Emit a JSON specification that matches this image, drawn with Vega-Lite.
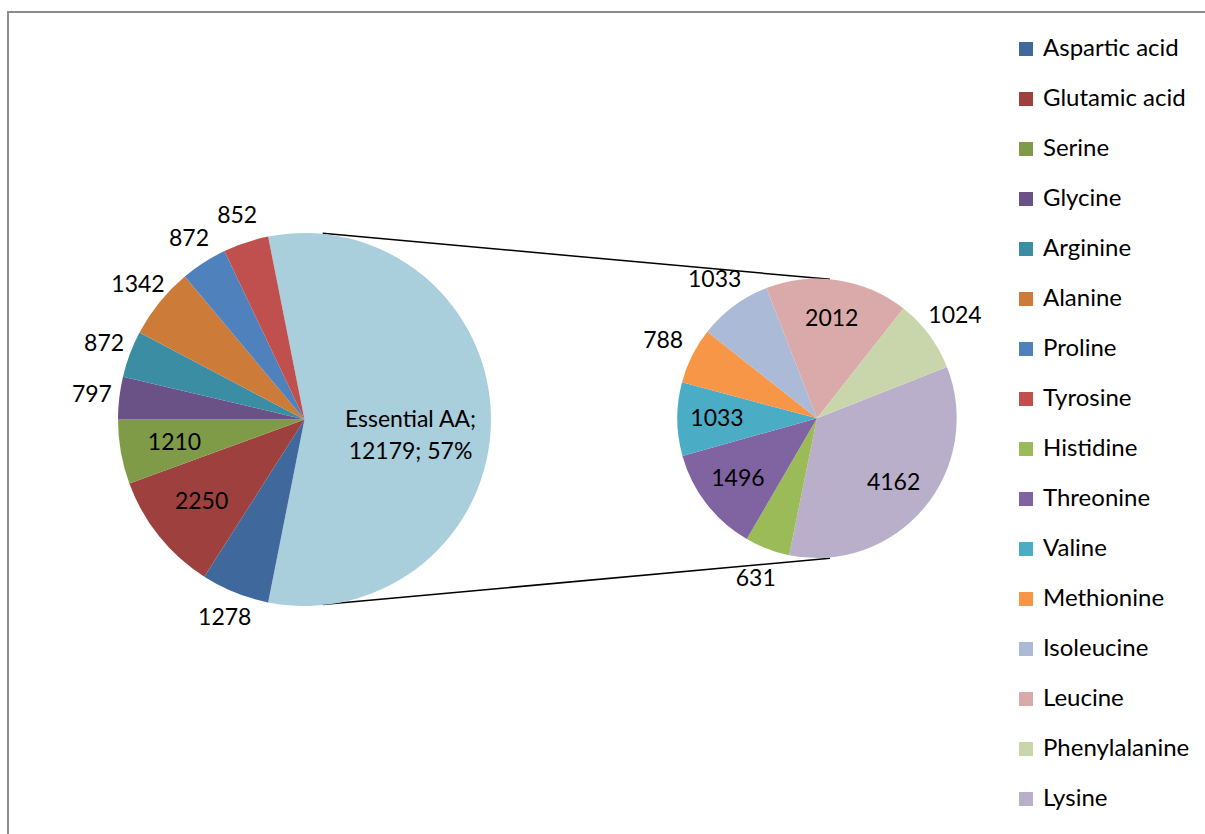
{
  "$schema": "https://vega.github.io/schema/vega-lite/v6.json",
  "width": 1205,
  "height": 834,
  "autosize": "none",
  "padding": {"left": 8, "top": 12, "right": 0, "bottom": 0},
  "background": "white",
  "config": {
    "view": {"stroke": "#8c8c8c", "strokeWidth": 2},
    "font": "Lato",
    "text": {"font": "Lato", "fontSize": 23, "color": "black"}
  },
  "datasets": {
    "other": [
      {"name": "Essential AA", "value": 12179, "ord": 0, "label": "Essential AA;\n12179; 57%"},
      {"name": "Aspartic acid", "value": 1278, "ord": 1},
      {"name": "Glutamic acid", "value": 2250, "ord": 2},
      {"name": "Serine", "value": 1210, "ord": 3},
      {"name": "Glycine", "value": 797, "ord": 4},
      {"name": "Arginine", "value": 872, "ord": 5},
      {"name": "Alanine", "value": 1342, "ord": 6},
      {"name": "Proline", "value": 872, "ord": 7},
      {"name": "Tyrosine", "value": 852, "ord": 8}
    ],
    "essential": [
      {"name": "Lysine", "value": 4162, "ord": 0},
      {"name": "Histidine", "value": 631, "ord": 1},
      {"name": "Threonine", "value": 1496, "ord": 2},
      {"name": "Valine", "value": 1033, "ord": 3},
      {"name": "Methionine", "value": 788, "ord": 4},
      {"name": "Isoleucine", "value": 1033, "ord": 5},
      {"name": "Leucine", "value": 2012, "ord": 6},
      {"name": "Phenylalanine", "value": 1024, "ord": 7}
    ],
    "connectors": [
      {"x": 322.7, "y": 233.3, "x2": 830, "y2": 279.3},
      {"x": 322.7, "y": 604.5, "x2": 830, "y2": 558.3}
    ]
  },
  "encoding": {
    "x": {"type": "quantitative", "scale": {"domain": [8, 1213], "nice": false, "zero": false}, "axis": null},
    "y": {"type": "quantitative", "scale": {"domain": [12, 846], "nice": false, "zero": false, "reverse": true}, "axis": null}
  },
  "layer": [
    {
      "data": {"name": "connectors"},
      "mark": {"type": "rule", "color": "black", "strokeWidth": 1.5},
      "encoding": {
        "x": {"field": "x", "type": "quantitative"},
        "y": {"field": "y", "type": "quantitative"},
        "x2": {"field": "x2"},
        "y2": {"field": "y2"}
      }
    },
    {
      "data": {"name": "other"},
      "encoding": {
        "theta": {"field": "value", "type": "quantitative", "stack": true, "scale": {"range": [-0.19633, 6.08686]}},
        "order": {"field": "ord", "type": "quantitative"},
        "x": {"datum": 304.5, "type": "quantitative"},
        "y": {"datum": 419.5, "type": "quantitative"}
      },
      "layer": [
        {
          "mark": {"type": "arc", "outerRadius": 186.5},
          "encoding": {
            "color": {
              "field": "name",
              "type": "nominal",
              "scale": {
                "domain": ["Aspartic acid", "Glutamic acid", "Serine", "Glycine", "Arginine", "Alanine", "Proline", "Tyrosine", "Histidine", "Threonine", "Valine", "Methionine", "Isoleucine", "Leucine", "Phenylalanine", "Lysine", "Essential AA"],
                "range": ["#3F699D", "#9E413E", "#7F9B48", "#6A5287", "#3A8DA3", "#CC7B38", "#4F81BD", "#C0504D", "#9BBB59", "#8064A2", "#4BACC6", "#F79646", "#AABAD7", "#D9AAA9", "#C9D6AC", "#BAAFCB", "#A9CEDC"]
              },
              "legend": {
                "orient": "none",
                "legendX": 1006,
                "legendY": 25,
                "title": null,
                "values": ["Aspartic acid", "Glutamic acid", "Serine", "Glycine", "Arginine", "Alanine", "Proline", "Tyrosine", "Histidine", "Threonine", "Valine", "Methionine", "Isoleucine", "Leucine", "Phenylalanine", "Lysine"],
                "symbolType": "square",
                "symbolSize": 196,
                "symbolStrokeWidth": 0,
                "symbolOpacity": 1,
                "labelFont": "Lato",
                "labelFontSize": 24,
                "labelColor": "black",
                "labelOffset": 5,
                "rowPadding": 26,
                "padding": 0,
                "labelLimit": 400
              }
            }
          }
        },
        {
          "mark": {"type": "text", "radius": 214, "align": "center", "baseline": "middle"},
          "encoding": {
            "text": {"condition": {"test": "indexof(['Aspartic acid','Glycine','Arginine','Alanine','Proline','Tyrosine'], datum.name) >= 0", "field": "value", "type": "quantitative", "format": "d"}, "value": ""}
          }
        },
        {
          "mark": {"type": "text", "radius": 132, "align": "center", "baseline": "middle"},
          "encoding": {
            "text": {"condition": {"test": "indexof(['Glutamic acid','Serine'], datum.name) >= 0", "field": "value", "type": "quantitative", "format": "d"}, "value": ""}
          }
        },
        {
          "mark": {"type": "text", "radius": 106, "align": "center", "baseline": "middle", "lineBreak": "\n", "lineHeight": 32, "dy": 1},
          "encoding": {
            "text": {"condition": {"test": "datum.name === 'Essential AA'", "field": "label", "type": "nominal"}, "value": ""}
          }
        }
      ]
    },
    {
      "data": {"name": "essential"},
      "encoding": {
        "theta": {"field": "value", "type": "quantitative", "stack": true, "scale": {"range": [1.19555, 7.47873]}},
        "order": {"field": "ord", "type": "quantitative"},
        "x": {"datum": 817, "type": "quantitative"},
        "y": {"datum": 418.3, "type": "quantitative"}
      },
      "layer": [
        {
          "mark": {"type": "arc", "outerRadius": 139.7},
          "encoding": {
            "color": {"field": "name", "type": "nominal"}
          }
        },
        {
          "mark": {"type": "text", "radius": 172, "align": "center", "baseline": "middle"},
          "encoding": {
            "text": {"condition": {"test": "indexof(['Isoleucine','Phenylalanine','Histidine','Methionine'], datum.name) >= 0", "field": "value", "type": "quantitative", "format": "d"}, "value": ""}
          }
        },
        {
          "mark": {"type": "text", "radius": 100, "align": "center", "baseline": "middle"},
          "encoding": {
            "text": {"condition": {"test": "indexof(['Leucine','Lysine','Threonine','Valine'], datum.name) >= 0", "field": "value", "type": "quantitative", "format": "d"}, "value": ""}
          }
        }
      ]
    }
  ],
  "resolve": {"scale": {"theta": "independent"}}
}
